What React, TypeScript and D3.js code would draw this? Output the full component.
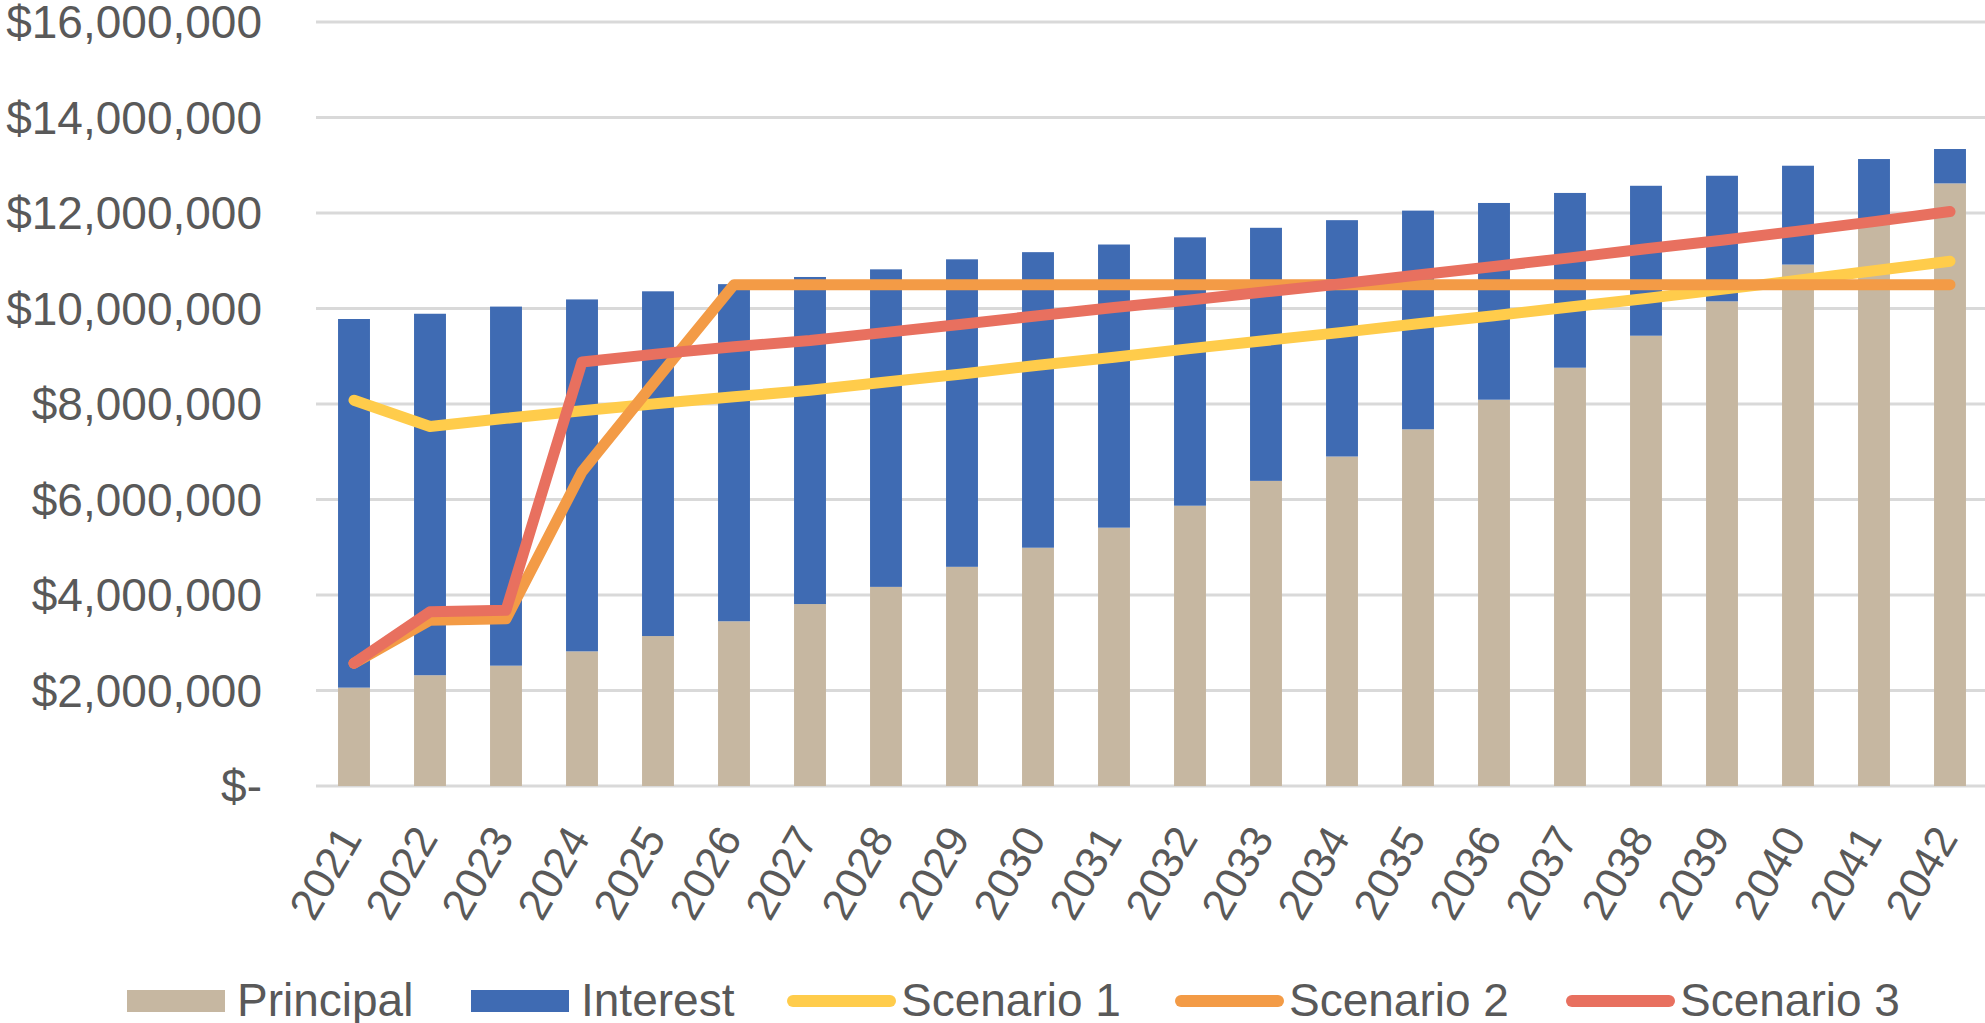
import React from "react";
import * as d3 from "d3";

const years = [
  "2021", "2022", "2023", "2024", "2025", "2026", "2027", "2028", "2029", "2030", "2031",
  "2032", "2033", "2034", "2035", "2036", "2037", "2038", "2039", "2040", "2041", "2042",
];

const principal = [
  2060000, 2320000, 2520000, 2820000, 3140000, 3450000, 3810000, 4170000, 4590000, 4990000, 5410000,
  5870000, 6390000, 6900000, 7470000, 8090000, 8760000, 9430000, 10150000, 10920000, 11750000, 12620000,
];

const interest = [
  7720000, 7570000, 7520000, 7370000, 7220000, 7060000, 6850000, 6650000, 6440000, 6190000, 5930000,
  5620000, 5300000, 4950000, 4580000, 4120000, 3660000, 3140000, 2630000, 2070000, 1380000, 720000,
];

const scenario1 = [
  8080000, 7530000, 7700000, 7860000, 8010000, 8150000, 8290000, 8460000, 8630000, 8810000, 8980000,
  9160000, 9330000, 9500000, 9680000, 9850000, 10030000, 10210000, 10400000, 10590000, 10790000, 10990000,
];

const scenario2 = [
  2570000, 3470000, 3500000, 6580000, 8550000, 10500000, 10500000, 10500000, 10500000, 10500000, 10500000,
  10500000, 10500000, 10500000, 10500000, 10500000, 10500000, 10500000, 10500000, 10500000, 10500000, 10500000,
];

const scenario3 = [
  2570000, 3650000, 3680000, 8880000, 9050000, 9200000, 9330000, 9500000, 9670000, 9850000, 10020000,
  10180000, 10350000, 10520000, 10700000, 10880000, 11060000, 11250000, 11430000, 11620000, 11820000, 12030000,
];

const yTicks = [0, 2000000, 4000000, 6000000, 8000000, 10000000, 12000000, 14000000, 16000000];

const legendItems = ["Principal", "Interest", "Scenario 1", "Scenario 2", "Scenario 3"];

const COLORS = {
  principal: "#C6B7A1",
  interest: "#3F6BB3",
  s1: "#FFCC4B",
  s2: "#F39B46",
  s3: "#E8705F",
  grid: "#D9D9D9",
  text: "#595959",
};

const FONT = "'Liberation Sans', Arial, sans-serif";

export default function App() {
  const W = 1985;
  const H = 1023;
  const plotLeft = 316;
  const plotRight = 1988;
  const yTop = 22;
  const yBottom = 786;

  const x = d3.scaleBand<string>().domain(years).range([plotLeft, plotRight]).paddingInner(0.58).paddingOuter(0.29);
  const y = d3.scaleLinear().domain([0, 16000000]).range([yBottom, yTop]);
  const fmt = d3.format("$,.0f");
  const tickLabel = (v: number) => (v === 0 ? "$-" : fmt(v));

  const cx = (i: number) => (x(years[i]) as number) + x.bandwidth() / 2;
  const line = d3
    .line<number>()
    .x((_, i) => cx(i))
    .y((d) => y(d));

  const series = [
    { data: scenario1, color: COLORS.s1 },
    { data: scenario2, color: COLORS.s2 },
    { data: scenario3, color: COLORS.s3 },
  ];

  const legendX = [127, 471, 787, 1175, 1566];
  const legendColors = [COLORS.principal, COLORS.interest, COLORS.s1, COLORS.s2, COLORS.s3];
  const legendY = 1001;

  return (
    <svg
      width={W}
      height={H}
      style={{ position: "absolute", left: 0, top: 0, background: "#fff" }}
      fontFamily={FONT}
    >
      <rect x={0} y={0} width={W} height={H} fill="#fff" />
      {yTicks.map((t) => (
        <g key={t}>
          <line x1={plotLeft} x2={W} y1={y(t)} y2={y(t)} stroke={COLORS.grid} strokeWidth={3} />
          <text x={262} y={y(t) + 16} textAnchor="end" fontSize={46} fill={COLORS.text}>
            {tickLabel(t)}
          </text>
        </g>
      ))}
      {years.map((yr, i) => {
        const bx = x(yr) as number;
        const p = principal[i];
        const it = interest[i];
        return (
          <g key={yr}>
            <rect x={bx} y={y(p)} width={x.bandwidth()} height={y(0) - y(p)} fill={COLORS.principal} />
            <rect x={bx} y={y(p + it)} width={x.bandwidth()} height={y(p) - y(p + it)} fill={COLORS.interest} />
          </g>
        );
      })}
      {series.map((s, k) => (
        <path
          key={k}
          d={line(s.data) || ""}
          fill="none"
          stroke={s.color}
          strokeWidth={11}
          strokeLinecap="round"
          strokeLinejoin="round"
        />
      ))}
      {years.map((yr, i) => {
        const ax = cx(i) + 9;
        const ay = 838;
        return (
          <text
            key={yr}
            x={ax}
            y={ay}
            textAnchor="end"
            fontSize={44}
            fill={COLORS.text}
            transform={`rotate(-60, ${ax}, ${ay})`}
          >
            {yr}
          </text>
        );
      })}
      {legendItems.map((name, i) => {
        const lx = legendX[i];
        const isBar = i < 2;
        return (
          <g key={name}>
            {isBar ? (
              <rect x={lx} y={legendY - 11} width={98} height={22} fill={legendColors[i]} />
            ) : (
              <line
                x1={lx + 6}
                x2={lx + 103}
                y1={legendY}
                y2={legendY}
                stroke={legendColors[i]}
                strokeWidth={12}
                strokeLinecap="round"
              />
            )}
            <text x={isBar ? lx + 110 : lx + 114} y={legendY + 15} fontSize={46} fill={COLORS.text}>
              {name}
            </text>
          </g>
        );
      })}
    </svg>
  );
}
